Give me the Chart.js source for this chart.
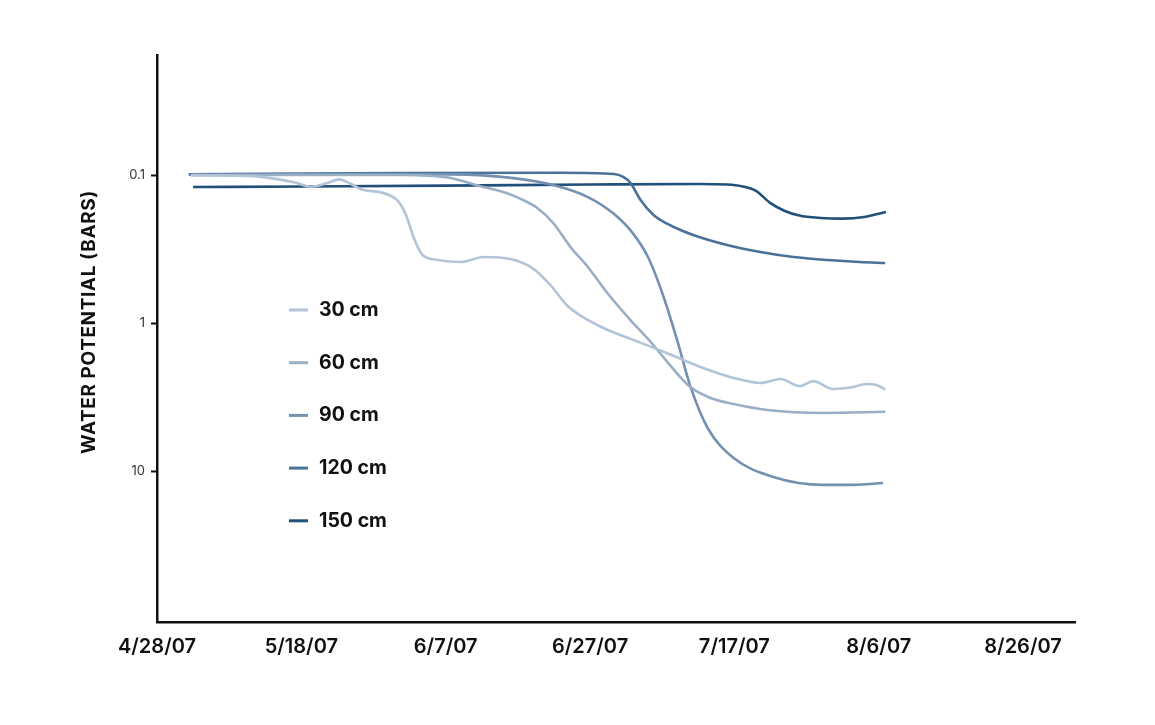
<!DOCTYPE html>
<html>
<head>
<meta charset="utf-8">
<title>Water potential</title>
<script src="https://cdn.jsdelivr.net/npm/chart.js@4.4.1/dist/chart.umd.min.js"></script>
<style>
  html, body { margin: 0; padding: 0; background: #fff; }
  #wrap { width: 1155px; height: 725px; position: relative; }
</style>
</head>
<body>
<div id="wrap"><canvas id="chart" width="1155" height="725"></canvas></div>
<script>
// x axis: days since 4/28/07
const xTickDays = [0, 20, 40, 60, 80, 100, 120];
const xTickLabels = ['4/28/07', '5/18/07', '6/7/07', '6/27/07', '7/17/07', '8/6/07', '8/26/07'];
const yTickValues = [0.1, 1, 10];
const yTitle = 'WATER POTENTIAL (BARS)';

const seriesLabels = ['30 cm', '60 cm', '90 cm', '120 cm', '150 cm'];
const seriesColors = ['#b3c4d6', '#9aaec6', '#7391b0', '#4a7299', '#21507b'];

// 30 cm
const days30 = [4.7, 10.2, 14.4, 19.0, 21.3, 23.7, 25.2, 26.9, 28.5, 31.0, 33.4, 34.5, 35.6, 36.8, 38.9,
                42.1, 45.3, 49.0, 52.2, 54.5, 56.9, 61.5, 66.0, 70.7, 75.3, 79.9, 83.6, 86.4, 89.1,
                90.9, 93.7, 96.1, 98.4, 99.8, 100.9];
const wp30 = [0.100, 0.101, 0.103, 0.112, 0.120, 0.113, 0.107, 0.115, 0.126, 0.131, 0.150, 0.186, 0.267, 0.347, 0.375,
              0.387, 0.358, 0.370, 0.432, 0.553, 0.767, 1.06, 1.30, 1.60, 1.98, 2.35, 2.54, 2.39, 2.67,
              2.47, 2.79, 2.73, 2.58, 2.63, 2.81];

// 60 cm
const days60 = [4.7, 19.9, 33.8, 40.3, 44.8, 48.3, 50.4, 52.7, 54.9, 57.3, 59.7, 62.4, 65.6, 68.4,
                70.7, 73.9, 76.7, 79.9, 84.6, 92.3, 100.9];
const wp60 = [0.100, 0.100, 0.100, 0.104, 0.119, 0.132, 0.145, 0.167, 0.211, 0.307, 0.418, 0.627, 0.955, 1.34,
              1.83, 2.71, 3.21, 3.53, 3.87, 4.05, 3.98];

// 90 cm
const days90 = [4.7, 26.9, 40.7, 49.4, 54.9, 59.7, 63.3, 66.0, 68.1, 70.2, 72.1, 73.9, 76.3, 79.9,
                85.4, 92.3, 96.5, 100.6];
const wp90 = [0.100, 0.0985, 0.099, 0.105, 0.117, 0.141, 0.183, 0.250, 0.364, 0.667, 1.32, 2.67, 5.12, 8.17,
              10.97, 12.4, 12.4, 12.05];

// 120 cm
const days120 = [4.4, 33.8, 55.9, 63.3, 64.6, 65.6, 67.0, 68.8, 71.6, 74.3, 79.0, 83.6, 88.2, 92.9, 97.4, 100.9];
const wp120 = [0.099, 0.097, 0.0965, 0.0985, 0.103, 0.113, 0.1475, 0.186, 0.2245, 0.254, 0.297, 0.331, 0.358,
               0.375, 0.387, 0.393];

// 150 cm
const days150 = [5.0, 20, 40, 60, 75, 79, 81, 83, 85, 87, 89, 92, 95, 98, 101];
const wp150 = [0.1205, 0.1196, 0.118, 0.116, 0.115, 0.116, 0.119, 0.128, 0.155, 0.175, 0.188, 0.195, 0.197,
               0.192, 0.178];

const seriesDays = [days30, days60, days90, days120, days150];
const seriesValues = [wp30, wp60, wp90, wp120, wp150];

const FONT = 'Inter, "Liberation Sans", Arial, sans-serif';

const datasets = seriesLabels.map((label, i) => ({
    label: label,
    data: seriesDays[i].map((d, j) => ({ x: d, y: seriesValues[i][j] })),
    borderColor: seriesColors[i],
    backgroundColor: seriesColors[i],
    borderWidth: 2.6,
    pointRadius: 0,
    cubicInterpolationMode: 'monotone',
    fill: false
}));

// legend and y title drawn inside the plot, like the original
const overlayPlugin = {
    id: 'overlay',
    afterDraw(chart) {
        const ctx = chart.ctx;
        ctx.save();

        // y axis title
        ctx.translate(89, 322);
        ctx.rotate(-Math.PI / 2);
        ctx.font = '700 19px ' + FONT;
        ctx.letterSpacing = '0.6px';
        ctx.fillStyle = '#111';
        ctx.textAlign = 'center';
        ctx.textBaseline = 'middle';
        ctx.fillText(yTitle, 0, 0);
        ctx.restore();

        // legend
        ctx.save();
        ctx.font = '700 19.5px ' + FONT;
        ctx.textBaseline = 'middle';
        ctx.textAlign = 'left';
        chart.data.datasets.forEach((ds, i) => {
            const y = 310 + i * 52.7;
            ctx.strokeStyle = ds.borderColor;
            ctx.lineWidth = 3;
            ctx.beginPath();
            ctx.moveTo(289, y);
            ctx.lineTo(308, y);
            ctx.stroke();
            ctx.fillStyle = '#111';
            ctx.fillText(ds.label, 319, y);
        });
        ctx.restore();
    }
};

new Chart(document.getElementById('chart'), {
    type: 'line',
    data: { datasets: datasets },
    options: {
        responsive: false,
        animation: false,
        devicePixelRatio: 1,
        layout: { padding: { top: 55, right: 80, left: 0, bottom: 0 } },
        plugins: {
            legend: { display: false },
            tooltip: { enabled: false }
        },
        scales: {
            x: {
                type: 'linear',
                min: 0,
                max: 127.2,
                afterBuildTicks: (scale) => {
                    scale.ticks = xTickDays.map(v => ({ value: v }));
                },
                afterFit: (scale) => { scale.height = 103; },
                ticks: {
                    padding: 13,
                    color: '#111',
                    font: { family: FONT, size: 20, weight: '600' },
                    maxRotation: 0,
                    callback: function(value) {
                        const idx = xTickDays.indexOf(value);
                        return idx >= 0 ? xTickLabels[idx] : '';
                    }
                },
                grid: { display: false, drawTicks: false },
                border: { display: true, color: '#111', width: 2.5 }
            },
            y: {
                type: 'logarithmic',
                reverse: true,
                min: 0.01546,
                max: 104.7,
                afterBuildTicks: (scale) => {
                    scale.ticks = yTickValues.map(v => ({ value: v }));
                },
                afterFit: (scale) => { scale.width = 157; },
                ticks: {
                    padding: 6,
                    color: '#333',
                    font: { family: FONT, size: 13 },
                    callback: function(value) {
                        return yTickValues.includes(value) ? String(value) : '';
                    }
                },
                grid: {
                    display: true,
                    drawOnChartArea: false,
                    drawTicks: true,
                    tickLength: 6,
                    tickWidth: 2,
                    color: '#111'
                },
                border: { display: true, color: '#111', width: 2.5 }
            }
        }
    },
    plugins: [overlayPlugin]
});
</script>
</body>
</html>
